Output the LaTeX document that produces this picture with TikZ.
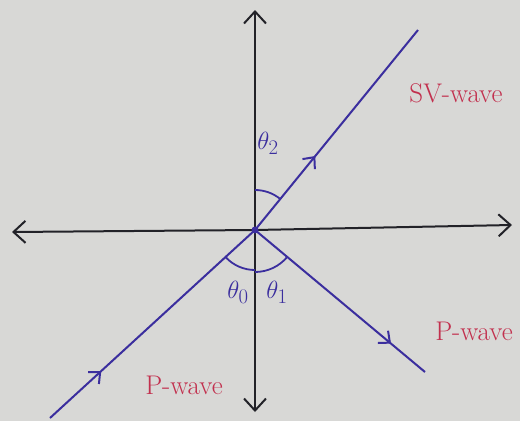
\documentclass[tikz,border=0pt]{standalone}
\usetikzlibrary{arrows.meta,decorations.markings}
\definecolor{paper}{HTML}{D8D8D6}
\definecolor{ink}{HTML}{3B2E9E}
\definecolor{axisink}{HTML}{222228}
\definecolor{redink}{HTML}{C2304E}
\tikzset{
  axisline/.style={draw=axisink,line width=2pt,-{Straight Barb[length=12pt,width=22pt,line width=2pt]}},
  ray/.style={draw=ink,line width=2pt},
  midarrow/.style={postaction={decorate},decoration={markings,mark=at position #1 with {\arrow{Straight Barb[length=9pt,width=16pt,line width=2pt]}}}},
  anglearc/.style={draw=ink,line width=1.8pt},
  wavelabel/.style={text=redink,font=\fontsize{27}{30}\selectfont,inner sep=0pt},
  anglelabel/.style={text=ink,font=\fontsize{30}{34}\selectfont,inner sep=0pt}
}
\begin{document}
\begin{tikzpicture}[x=1pt,y=-1pt]
\fill[paper] (0,0) rectangle (520,421);
\useasboundingbox (0,0) rectangle (520,421);
\coordinate (O) at (255,230);
\coordinate (up) at (255,10);
\coordinate (down) at (255,412);
\coordinate (left) at (12,232);
\coordinate (right) at (512,225);
\coordinate (inc) at (50,418);
\coordinate (refl) at (425,372);
\coordinate (sv) at (418,30);
% axes
\draw[axisline] (O) -- (up);
\draw[axisline] (O) -- (down);
\draw[axisline] (O) -- (left);
\draw[axisline] (O) -- (right);
% rays
\draw[ray,midarrow=0.25] (inc) -- (O);
\draw[ray,midarrow=0.8] (O) -- (refl);
\draw[ray,midarrow=0.37] (O) -- (sv);
\fill[ink] (O) circle (3.5pt);
% angle arcs (y axis points down, so angles are measured clockwise on screen)
\draw[anglearc] (255,190) arc[start angle=270,end angle=309,radius=40];
\draw[anglearc] (255,270) arc[start angle=90,end angle=137,radius=40];
\draw[anglearc] (255,272) arc[start angle=90,end angle=40,radius=42];
% labels
\node[anglelabel] (t2) at (268,143) {$\theta_2$};
\node[anglelabel] (t0) at (238,292) {$\theta_0$};
\node[anglelabel] (t1) at (277,292) {$\theta_1$};
\node[wavelabel] (lsv) at (456,93) {SV-wave};
\node[wavelabel] (lp1) at (474,331) {P-wave};
\node[wavelabel] (lp2) at (184,385) {P-wave};
\end{tikzpicture}
\end{document}
